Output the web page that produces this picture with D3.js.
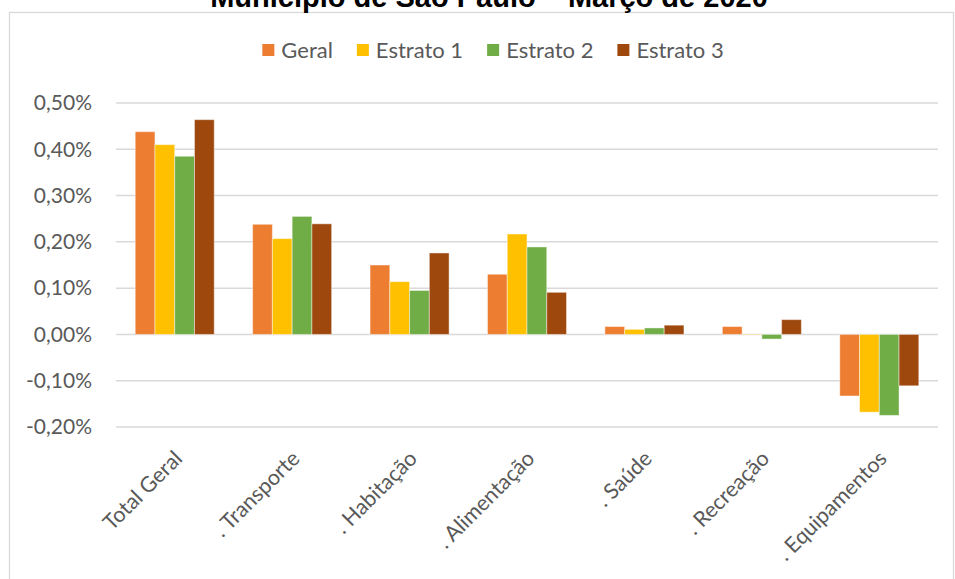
<!DOCTYPE html>
<html>
<head>
<meta charset="utf-8">
<script src="https://cdn.jsdelivr.net/npm/d3@7"></script>
<style>
  body { margin: 0; background: #fff; }
  svg { display: block; }
</style>
</head>
<body>
<div id="chart"></div>
<script>
// Data (values in %)
var categories = ["Total Geral", ". Transporte", ". Habitação", ". Alimentação", ". Saúde", ". Recreação", ". Equipamentos"];
var seriesNames = ["Geral", "Estrato 1", "Estrato 2", "Estrato 3"];
var geral    = [0.438, 0.238, 0.150, 0.130, 0.017, 0.017, -0.133];
var estrato1 = [0.410, 0.207, 0.114, 0.217, 0.011, -0.001, -0.168];
var estrato2 = [0.385, 0.255, 0.095, 0.189, 0.014, -0.010, -0.175];
var estrato3 = [0.464, 0.239, 0.176, 0.091, 0.020, 0.032, -0.111];
var yTicks = [-0.2, -0.1, 0, 0.1, 0.2, 0.3, 0.4, 0.5];
var colors = ["#ED7D31", "#FFC000", "#70AD47", "#9E480E"];
var title = "Município de São Paulo – Março de 2020";

var seriesValues = [geral, estrato1, estrato2, estrato3];

// SVG parameter setup
var svgWidth = 955;
var svgHeight = 579;
var margin = { top: 103, right: 17, bottom: 152, left: 116 };
var width = svgWidth - margin.left - margin.right;
var height = svgHeight - margin.top - margin.bottom;

var labelFont = "Lato, 'Open Sans', sans-serif";

var svg = d3.select("#chart").append("svg")
    .attr("width", svgWidth)
    .attr("height", svgHeight);

// Chart area border (top is cut just under the title)
svg.append("rect")
    .attr("x", 9.5)
    .attr("y", 12.5)
    .attr("width", 944)
    .attr("height", 600)
    .attr("fill", "none")
    .attr("stroke", "#d9d9d9")
    .attr("stroke-width", 1.3);

// Title, mostly cut off at the top like in the source
svg.append("text")
    .attr("x", 489)
    .attr("y", 7)
    .attr("text-anchor", "middle")
    .style("font-family", "'Liberation Sans', Arial, sans-serif")
    .style("font-weight", "bold")
    .style("font-size", "29px")
    .style("fill", "#000")
    .text(title);

var chartGroup = svg.append("g")
    .attr("transform", `translate(${margin.left}, ${margin.top})`);

// Scales
var x0 = d3.scaleBand()
    .domain(categories)
    .range([0, width])
    .paddingInner(0.327)
    .paddingOuter(0.1635);

var x1 = d3.scaleBand()
    .domain(seriesNames)
    .range([0, x0.bandwidth()]);

var y = d3.scaleLinear()
    .domain([-0.2, 0.5])
    .range([height, 0]);

// Gridlines
chartGroup.append("g")
    .selectAll("line")
    .data(yTicks)
    .enter()
    .append("line")
    .attr("x1", 0)
    .attr("x2", width)
    .attr("y1", d => y(d))
    .attr("y2", d => y(d))
    .attr("stroke", "#d9d9d9")
    .attr("stroke-width", 1.5);

// Y axis labels
function fmt(v) {
    var s = Math.abs(v).toFixed(2).replace(".", ",") + "%";
    return (v < -1e-9 ? "-" : "") + s;
}

var leftAxis = d3.axisLeft(y)
    .tickValues(yTicks)
    .tickSize(0)
    .tickPadding(24)
    .tickFormat(fmt);

var yAxis = chartGroup.append("g").call(leftAxis);
yAxis.select(".domain").remove();
yAxis.selectAll("text")
    .style("font-family", labelFont)
    .style("font-size", "21px")
    .style("fill", "#595959");

// Bars
var groups = chartGroup.selectAll(".cat")
    .data(categories)
    .enter()
    .append("g")
    .attr("class", "cat")
    .attr("transform", d => `translate(${x0(d)}, 0)`);

groups.selectAll("rect")
    .data((d, i) => seriesNames.map((s, j) => ({ name: s, value: seriesValues[j][i], color: colors[j] })))
    .enter()
    .append("rect")
    .attr("x", d => x1(d.name))
    .attr("y", d => y(Math.max(0, d.value)))
    .attr("width", x1.bandwidth())
    .attr("height", d => Math.abs(y(d.value) - y(0)))
    .attr("fill", d => d.color)
    .attr("stroke", "#ffffff")
    .attr("stroke-opacity", 0.45)
    .attr("stroke-width", 1);

// X axis labels, rotated
chartGroup.append("g")
    .selectAll("text")
    .data(categories)
    .enter()
    .append("text")
    .attr("transform", d => `translate(${x0(d) + x0.bandwidth() / 2 - 3}, ${height + 21}) rotate(-45)`)
    .attr("text-anchor", "end")
    .attr("dominant-baseline", "hanging")
    .style("font-family", labelFont)
    .style("font-size", "21.5px")
    .style("fill", "#595959")
    .text(d => d);

// Legend
var legend = svg.append("g");
var lx = 0;
seriesNames.forEach(function(name, i) {
    var item = legend.append("g").attr("transform", `translate(${lx}, 0)`);
    item.append("rect")
        .attr("x", 0)
        .attr("y", -6)
        .attr("width", 12)
        .attr("height", 12)
        .attr("fill", colors[i]);
    var t = item.append("text")
        .attr("x", 19)
        .attr("y", 0)
        .attr("dy", "0.35em")
        .style("font-family", labelFont)
        .style("font-size", "22px")
        .style("fill", "#595959")
        .text(name);
    lx += 19 + t.node().getComputedTextLength() + 24;
});
var legendWidth = lx - 24;
legend.attr("transform", `translate(${493 - legendWidth / 2}, 50)`);
</script>
</body>
</html>
